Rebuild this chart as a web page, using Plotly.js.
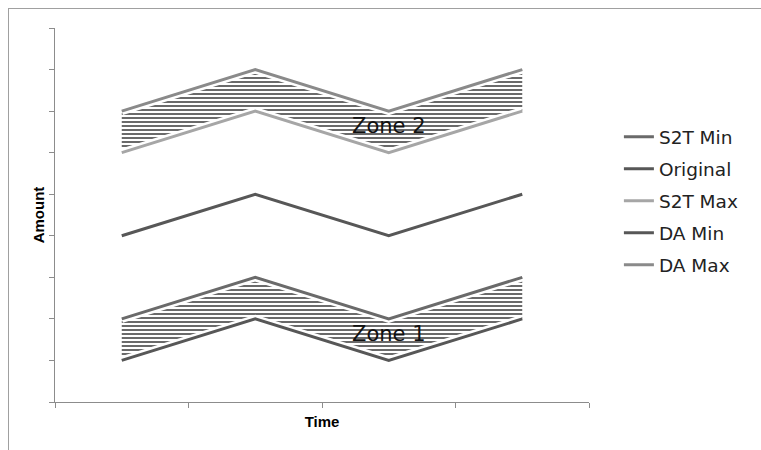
<!DOCTYPE html>
<html>
<head>
<meta charset="utf-8">
<script src="https://cdn.plot.ly/plotly-3.0.1.min.js"></script>
<style>
html,body{margin:0;padding:0;background:#fff;}
#frame{position:absolute;left:8px;top:8px;width:760px;height:450px;border-left:1px solid #a0a0a0;border-top:1px solid #a0a0a0;}
#chart{position:absolute;left:0;top:0;width:761px;height:450px;}
</style>
</head>
<body>
<div id="chart"></div>
<div id="frame"></div>
<script>
const times = [1, 2, 3, 4];
const daMin = [1, 2, 1, 2];
const s2tMin = [2, 3, 2, 3];
const original = [4, 5, 4, 5];
const s2tMax = [6, 7, 6, 7];
const daMax = [7, 8, 7, 8];
const zoneLabels = ['Zone 1', 'Zone 2'];
const zoneX = [3, 3];
const zoneY = [1.64, 6.65];

const pat = {shape: '-', size: 4, solidity: 0.5, fgcolor: '#6a6a6a', bgcolor: 'white'};
const lf = {family: 'DejaVu Sans, Verdana, sans-serif', size: 18.5, color: '#222'};
const halo = {color: 'white', width: 8};

const series = [
  {name: 'S2T Min', y: s2tMin, color: '#6a6a6a', rank: 1},
  {name: 'Original', y: original, color: '#575757', rank: 2},
  {name: 'S2T Max', y: s2tMax, color: '#a6a6a6', rank: 3},
  {name: 'DA Min', y: daMin, color: '#575757', rank: 4},
  {name: 'DA Max', y: daMax, color: '#8a8a8a', rank: 5}
];

const traces = [
  // zone 1 fill: between DA Min and S2T Min
  {x: times, y: daMin, mode: 'lines', line: {width: 0}, showlegend: false, hoverinfo: 'skip'},
  {x: times, y: s2tMin, mode: 'lines', line: {width: 0}, fill: 'tonexty', fillpattern: pat, fillcolor: 'white', showlegend: false, hoverinfo: 'skip'},
  // zone 2 fill: between S2T Max and DA Max
  {x: times, y: s2tMax, mode: 'lines', line: {width: 0}, showlegend: false, hoverinfo: 'skip'},
  {x: times, y: daMax, mode: 'lines', line: {width: 0}, fill: 'tonexty', fillpattern: pat, fillcolor: 'white', showlegend: false, hoverinfo: 'skip'}
];
// white halos under the boundary lines
[daMin, s2tMin, s2tMax, daMax].forEach(arr => {
  traces.push({x: times, y: arr, mode: 'lines', line: halo, showlegend: false, hoverinfo: 'skip'});
});
series.forEach((s, i) => {
  traces.push({x: times, y: s.y, name: s.name, mode: 'lines', line: {color: s.color, width: 3}, legendrank: s.rank, legendgroup: 'g' + i});
});

const annotations = zoneLabels.map((t, i) => ({
  x: zoneX[i], y: zoneY[i], xref: 'x', yref: 'y', text: t, showarrow: false,
  font: {family: 'DejaVu Sans, Verdana, sans-serif', size: 21, color: '#111'}
}));

const tf = {family: 'Liberation Sans, Arial, sans-serif', size: 15, color: '#000', weight: 'bold'};

const layout = {
  width: 761, height: 450,
  margin: {l: 55, r: 172, t: 28, b: 48},
  paper_bgcolor: 'white', plot_bgcolor: 'white',
  showlegend: true,
  legend: {x: 1.056, xanchor: 'left', y: 0.759, yanchor: 'top', font: lf, tracegroupgap: 5, bgcolor: 'rgba(0,0,0,0)'},
  xaxis: {
    range: [0.5, 4.5], tickmode: 'array', tickvals: [0.5, 1.5, 2.5, 3.5, 4.5], showticklabels: false,
    ticks: 'outside', ticklen: 5, tickcolor: '#8c8c8c', showgrid: false, zeroline: false,
    showline: true, linecolor: '#8c8c8c', linewidth: 1, automargin: false,
    title: {text: 'Time', font: tf, standoff: 9}
  },
  yaxis: {
    range: [0, 9], dtick: 1, tick0: 0, showticklabels: false,
    ticks: 'outside', ticklen: 5, tickcolor: '#8c8c8c', showgrid: false, zeroline: false,
    showline: true, linecolor: '#8c8c8c', linewidth: 1, automargin: false,
    title: {text: 'Amount', font: tf, standoff: 0}
  },
  annotations: annotations
};

Plotly.newPlot('chart', traces, layout, {displayModeBar: false, staticPlot: true});
</script>
</body>
</html>
